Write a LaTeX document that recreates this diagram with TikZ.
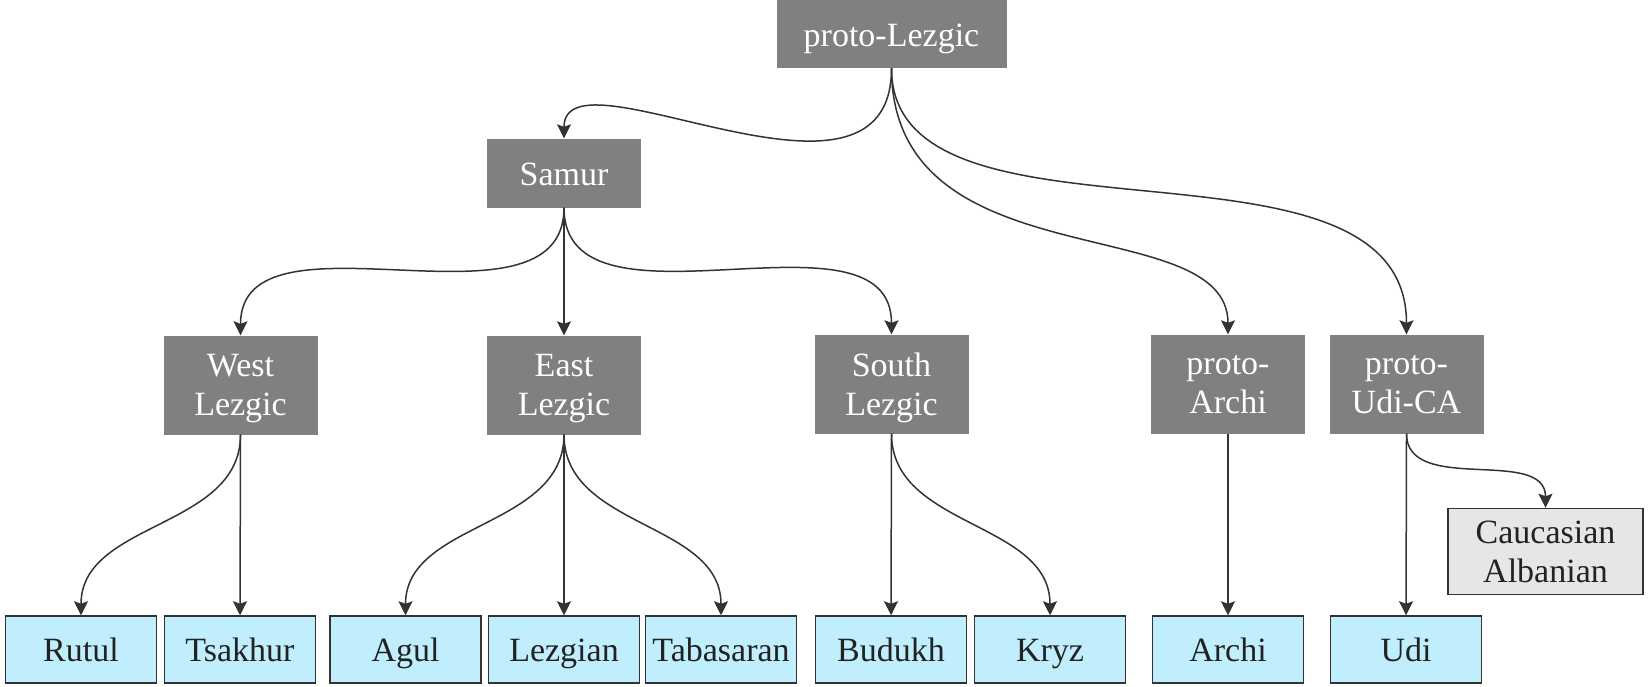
\documentclass[tikz,border=0pt]{standalone}
\usepackage{fontspec}
\setmainfont{Liberation Serif}
\usetikzlibrary{arrows.meta}
\definecolor{boxgray}{HTML}{808080}
\definecolor{leafblue}{HTML}{C0EEFD}
\definecolor{extgray}{HTML}{E6E6E6}
\definecolor{edgecol}{HTML}{333333}
\definecolor{textdark}{HTML}{222222}
\begin{document}
\begin{tikzpicture}[x=1pt,y=-1pt,
  txt/.style={font=\fontsize{34}{39}\selectfont, align=center, inner sep=0pt},
  oneline/.style={text height=24pt, text depth=0pt},
  twoline/.style={text depth=0pt},
  inner/.style={txt, fill=boxgray, text=white, minimum width=154pt, minimum height=99pt},
  leaf/.style={txt, oneline, fill=leafblue, draw=edgecol, line width=1.5pt, text=textdark, minimum width=151pt, minimum height=67pt},
  ext/.style={txt, fill=extgray, draw=edgecol, line width=1.5pt, text=textdark, minimum width=195pt, minimum height=86pt},
  link/.style={draw=edgecol, line width=1.5pt, -{Stealth[length=14pt,width=14pt,inset=2.5pt]}},
  curv/.style={link, out=-90, in=90}]
\useasboundingbox (0,0) rectangle (1648,686);
% internal nodes
\node[inner, oneline, minimum width=230pt, minimum height=68pt] (pl) at (891.5,34) {proto-Lezgic};
\node[inner, oneline, minimum height=69pt] (samur) at (564,173) {Samur};
\node[inner, twoline] (west) at (240.5,385) {West\\Lezgic};
\node[inner, twoline] (east) at (564,385) {East\\Lezgic};
\node[inner, twoline] (south) at (891.5,384) {South\\Lezgic};
\node[inner, twoline] (parchi) at (1228,384) {proto-\\Archi};
\node[inner, twoline] (pudi) at (1406.5,384) {proto-\\Udi-CA};
\node[ext] (ca) at (1545.5,551.5) {Caucasian\\Albanian};
% leaves
\node[leaf] (rutul) at (81,649.5) {Rutul};
\node[leaf] (tsakhur) at (240,649.5) {Tsakhur};
\node[leaf] (agul) at (405.5,649.5) {Agul};
\node[leaf] (lezgian) at (564,649.5) {Lezgian};
\node[leaf] (tabasaran) at (721,649.5) {Tabasaran};
\node[leaf] (budukh) at (891,649.5) {Budukh};
\node[leaf] (kryz) at (1050,649.5) {Kryz};
\node[leaf] (archi) at (1228,649.5) {Archi};
\node[leaf] (udi) at (1406,649.5) {Udi};
% connectors
\draw[link] (pl.south) .. controls +(0,172) and +(0,-96) .. (samur.north);
\draw[link] (pl.south) .. controls +(0,216) and +(0,-126) .. (parchi.north);
\draw[link] (pl.south) .. controls +(0,198) and +(0,-221) .. (pudi.north);
\draw[curv] (samur.south) to (west.north);
\draw[link] (samur.south) -- (east.north);
\draw[curv] (samur.south) to (south.north);
\draw[curv] (west.south) to (rutul.north);
\draw[link] (west.south) -- (tsakhur.north);
\draw[curv] (east.south) to (agul.north);
\draw[link] (east.south) -- (lezgian.north);
\draw[curv] (east.south) to (tabasaran.north);
\draw[link] (south.south) -- (budukh.north);
\draw[curv] (south.south) to (kryz.north);
\draw[link] (parchi.south) -- (archi.north);
\draw[link] (pudi.south) -- (udi.north);
\draw[curv] (pudi.south) to (ca.north);
\end{tikzpicture}
\end{document}
